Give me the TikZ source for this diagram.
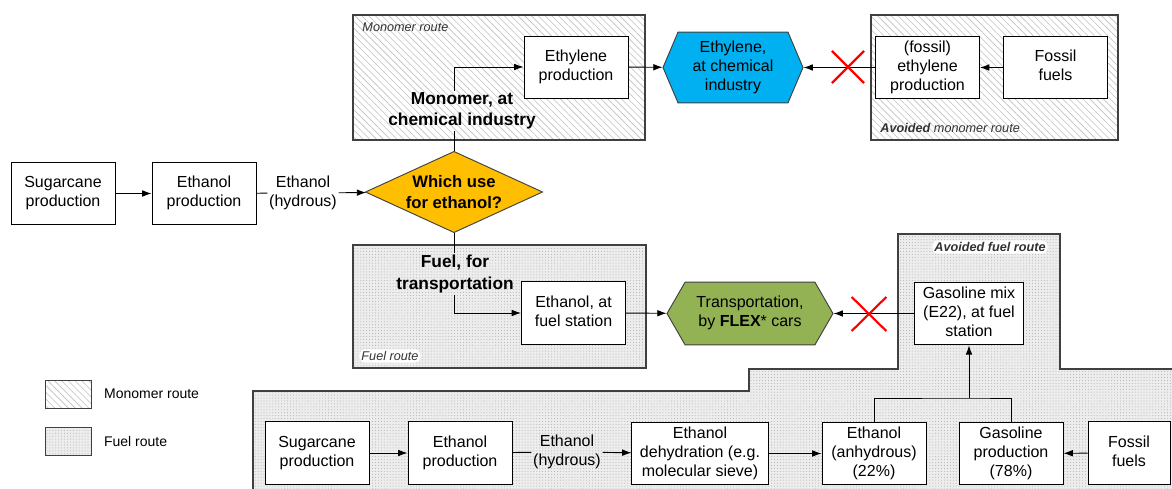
\documentclass[tikz,border=0pt]{standalone}
\usepackage{fontspec}
\setmainfont{Liberation Sans}
\usetikzlibrary{arrows.meta,shapes.geometric,shapes.symbols,shapes.misc,patterns.meta}
\usetikzlibrary{positioning}
\tikzset{>={Latex[length=7pt,width=5pt]}}
\definecolor{ethblue}{RGB}{0,176,240}
\definecolor{flexgreen}{RGB}{146,178,84}
\definecolor{useorange}{RGB}{255,190,0}
\definecolor{zonegray}{RGB}{64,64,64}
\tikzset{
 procbox/.style={rectangle, draw=black, fill=white, minimum width=78pt,
   minimum height=47pt, inner sep=0pt, font=\fontsize{12}{14.3}\selectfont},
 prodhex/.style={signal, signal to=west and east, draw=zonegray,
   inner sep=2pt, font=\fontsize{12}{14.3}\selectfont},
 choicebox/.style={diamond, aspect=2.2, draw=zonegray, fill=useorange,
   minimum width=133pt, minimum height=61pt, inner sep=0pt,
   font=\fontsize{12.5}{16}\selectfont\bfseries},
 monozone/.style={pattern={Lines[angle=-45,distance=3.6pt,line width=0.45pt]},
   pattern color=gray!50},
 fuelzone/.style={preaction={fill=gray!14},
   pattern={Dots[distance=2.2pt,radius=0.4pt]}, pattern color=gray!60},
 zoneline/.style={draw=zonegray, line width=0.9pt},
 routetag/.style={font=\fontsize{9.5}{11}\selectfont\itshape, text=black!80, inner sep=1.5pt},
 choicetag/.style={font=\fontsize{13}{16}\selectfont\bfseries, inner sep=1pt, align=center},
 flowtag/.style={font=\fontsize{12}{14.3}\selectfont, inner sep=1pt, align=center},
 noflow/.style={-, cross out, draw=red, line width=1.6pt, inner sep=0pt},
}
\begin{document}
\begin{tikzpicture}[->, x=0.75pt, y=-0.75pt, line width=0.7pt]
\useasboundingbox (0,0) rectangle (1172,489);

 % route zones, behind everything
 \path[monozone, zoneline] (353,15) rectangle (645,140);
 \path[monozone, zoneline] (871,15) rectangle (1118,140);
 \path[fuelzone, zoneline] (353,245) rectangle (646,368);
 \path[fuelzone] (253,492) -- (253,391) -- (749,391) -- (749,369) -- (898,369)
   -- (898,234) -- (1060,234) -- (1060,369) -- (1175,369) -- (1175,492) -- cycle;
 \draw[-, zoneline] (253,492) -- (253,391) -- (749,391) -- (749,369) -- (898,369)
   -- (898,234) -- (1060,234) -- (1060,369) -- (1175,369);

 % zone tags
 \node[routetag, anchor=west] (MonoRoute) at (360,27) {Monomer route};
 \node[routetag, anchor=west] (AvMonoRoute) at (878,128) {\textbf{Avoided} monomer route};
 \node[routetag, anchor=west, fill=white, rounded corners=4pt] (FuelRoute) at (359,356) {Fuel route};
 \node[routetag, fill=white, rounded corners=4pt] (AvFuelRoute) at (990,247) {\textbf{Avoided fuel route}};

 % middle row: sugarcane to the choice
 \node[procbox,
 anchor=center] (SugarA) at (63,193.5)
{%
\begin{tabular}{c}
  Sugarcane\\ production
\end{tabular}};

 \node[procbox,
 right of=SugarA, 	% next in the chain
 node distance=105.75pt,
 anchor=center] (EthA)
{%
\begin{tabular}{c}
  Ethanol\\ production
\end{tabular}};

 \node[flowtag] (HydA) at (303,193) {Ethanol\\(hydrous)};

 \node[choicebox, align=center] (Which) at (454,192) {Which use\\for ethanol?};

 % monomer route
 \node[choicetag] (MonoTag) at (462,111) {Monomer, at\\chemical industry};

 \node[procbox,
 minimum height=46.5pt,
 anchor=center] (EthProd) at (576,67)
{%
\begin{tabular}{c}
  Ethylene\\ production
\end{tabular}};

 \node[prodhex,
 fill=ethblue,
 signal pointer angle=134,
 minimum width=105pt,
 minimum height=53pt] (EthHex) at (733,67.5)
{%
\begin{tabular}{c}
  Ethylene,\\ at chemical\\ industry
\end{tabular}};

 \node[procbox,
 anchor=center] (FossEth) at (927.5,67.5)
{%
\begin{tabular}{c}
  (fossil)\\ ethylene\\ production
\end{tabular}};

 \node[procbox,
 right of=FossEth,
 node distance=96pt,
 anchor=center] (FossA)
{%
\begin{tabular}{c}
  Fossil\\ fuels
\end{tabular}};

 % fuel route
 \node[choicetag] (FuelTag) at (455,274) {Fuel, for\\transportation};

 \node[procbox,
 anchor=center] (EthFuel) at (573.5,313)
{%
\begin{tabular}{c}
  Ethanol, at\\ fuel station
\end{tabular}};

 \node[prodhex,
 fill=flexgreen,
 signal pointer angle=120,
 minimum width=124.5pt,
 minimum height=47pt] (Transp) at (750,313.5)
{%
\begin{tabular}{c}
  Transportation,\\ by \textbf{FLEX}* cars
\end{tabular}};

 \node[procbox,
 anchor=center] (GasMix) at (969,313.5)
{%
\begin{tabular}{c}
  Gasoline mix\\ (E22), at fuel\\ station
\end{tabular}};

 % bottom row: avoided fuel route
 \node[procbox,
 anchor=center] (SugarB) at (317,453)
{%
\begin{tabular}{c}
  Sugarcane\\ production
\end{tabular}};

 \node[procbox,
 right of=SugarB,
 node distance=107.25pt,
 anchor=center] (EthB)
{%
\begin{tabular}{c}
  Ethanol\\ production
\end{tabular}};

 \node[flowtag] (HydB) at (567,452) {Ethanol\\(hydrous)};

 \node[procbox,
 minimum width=102pt,
 anchor=center] (Dehyd) at (700,453.5)
{%
\begin{tabular}{c}
  Ethanol\\ dehydration (e.g.\\ molecular sieve)
\end{tabular}};

 \node[procbox,
 anchor=center] (Anhyd) at (874,453.5)
{%
\begin{tabular}{c}
  Ethanol\\ (anhydrous)\\ (22\%)
\end{tabular}};

 \node[procbox,
 anchor=center] (GasProd) at (1011,453.5)
{%
\begin{tabular}{c}
  Gasoline\\ production\\ (78\%)
\end{tabular}};

 \node[procbox,
 minimum width=61.5pt,
 anchor=center] (FossB) at (1129,453)
{%
\begin{tabular}{c}
  Fossil\\ fuels
\end{tabular}};

 \coordinate (Join) at (969,398);

 % the flows
 \path (SugarA) edge (EthA)
 (EthA)    edge[-] (HydA)
 (HydA)    edge (Which)
 (EthProd) edge (EthHex)
 (FossEth) edge (EthHex)
 (FossA)   edge (FossEth)
 (EthFuel) edge (Transp)
 (GasMix)  edge (Transp)
 (SugarB)  edge (EthB)
 (EthB)    edge[-] (HydB)
 (HydB)    edge (Dehyd)
 (Dehyd)   edge (Anhyd)
 (FossB)   edge (GasProd);

 \draw[-] (Which.north) -- (Which.north |- MonoTag.south);
 \draw (MonoTag.north -| Which.north) |- (EthProd.west);
 \draw[-] (Which.south) -- (Which.south |- FuelTag.north);
 \draw (FuelTag.south -| Which.south) |- (EthFuel.west);
 \draw[-] (Anhyd.north) |- (Join) -| (GasProd.north);
 \draw (Join) -- (GasMix.south);

 % avoided flows crossed out
 \node[noflow, minimum width=22.5pt, minimum height=22.5pt] (CutMono) at (848,67) {};
 \node[noflow, minimum width=24.5pt, minimum height=24pt] (CutFuel) at (869,314) {};

 % legend
 \node[-, monozone, draw=zonegray, minimum width=34pt, minimum height=21pt] (LegMono) at (68.5,394) {};
 \node[-, fuelzone, draw=zonegray, minimum width=34pt, minimum height=21pt] (LegFuel) at (68.5,441) {};
 \node[right=9pt of LegMono, inner sep=0pt, font=\fontsize{10.5}{12}\selectfont] (LegMonoTxt) {Monomer route};
 \node[right=9pt of LegFuel, inner sep=0pt, font=\fontsize{10.5}{12}\selectfont] (LegFuelTxt) {Fuel route};

\end{tikzpicture}
\end{document}
